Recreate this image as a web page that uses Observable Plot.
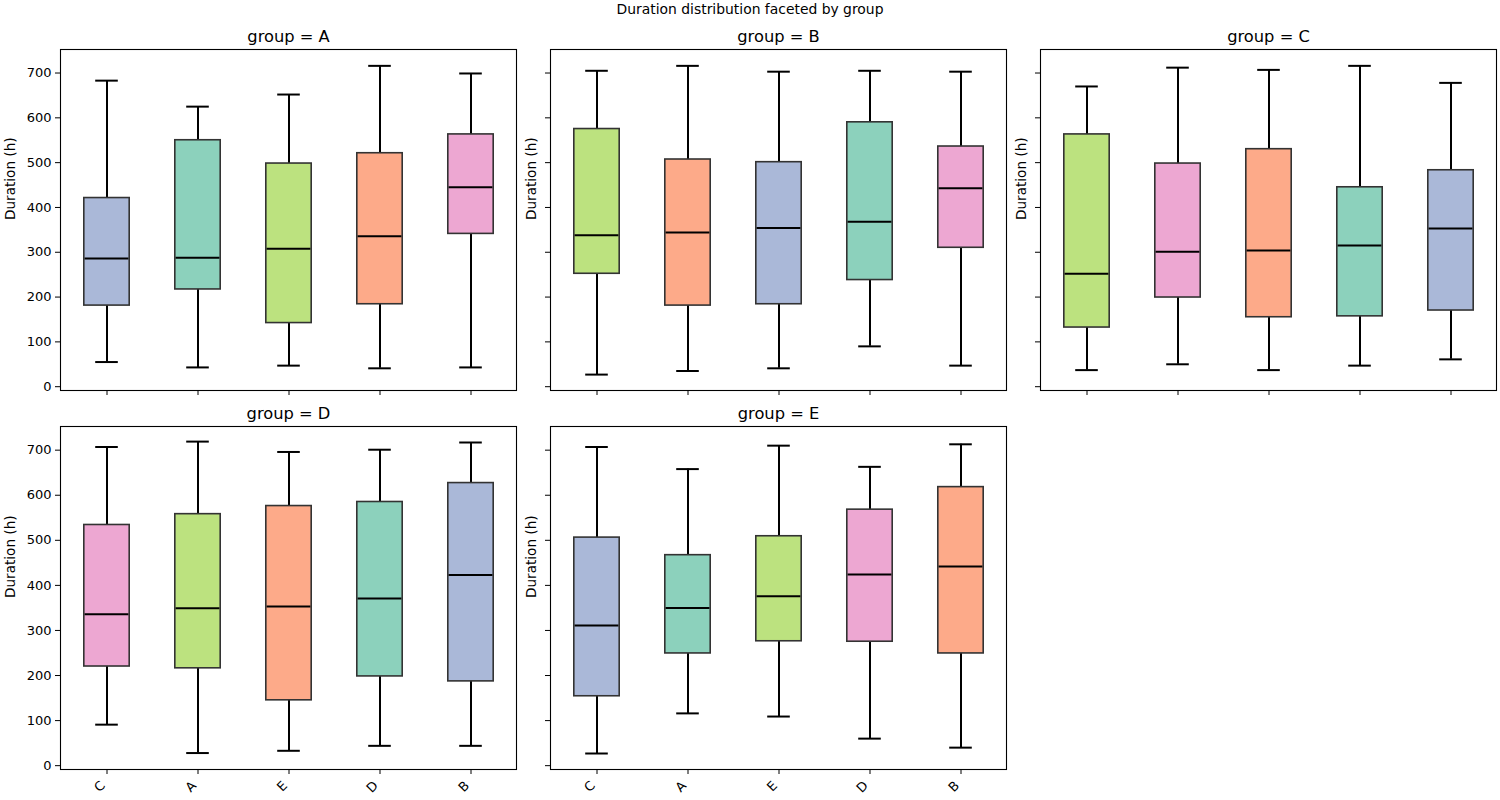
<!DOCTYPE html>
<html>
<head>
<meta charset="utf-8">
<script src="https://cdn.jsdelivr.net/npm/d3@7"></script>
<script src="https://cdn.jsdelivr.net/npm/@observablehq/plot@0.6"></script>
<style>
  html, body { margin: 0; padding: 0; background: #fff; }
  #fig { position: relative; width: 1500px; height: 800px; overflow: hidden; font-family: "DejaVu Sans", sans-serif; }
  #suptitle { position: absolute; left: 0; top: 1px; width: 1500px; text-align: center; font-size: 13.9px; color: #000; z-index: 5; }
</style>
</head>
<body>
<div id="fig"><div id="suptitle"></div></div>
<script>
// ---- data ----
const groups = ["A", "B", "C", "D", "E"];
const categories = ["C", "A", "E", "D", "B"];
const yTicks = [0, 100, 200, 300, 400, 500, 600, 700];
const yLabel = "Duration (h)";
const suptitle = "Duration distribution faceted by group";

// one row per facet group, one value per category (C, A, E, D, B)
const whiskerLow = [
  [55, 43, 47, 41, 43],
  [27, 35, 41, 90, 47],
  [37, 50, 37, 47, 61],
  [91, 28, 33, 44, 44],
  [27, 116, 109, 60, 40]
];
const q1 = [
  [181, 217, 142, 184, 341],
  [252, 181, 184, 238, 310],
  [132, 199, 155, 157, 170],
  [220, 216, 145, 198, 187],
  [154, 249, 276, 275, 249]
];
const median = [
  [286, 288, 308, 336, 445],
  [338, 344, 354, 368, 443],
  [252, 301, 304, 315, 353],
  [336, 349, 353, 371, 423],
  [311, 350, 376, 424, 442]
];
const q3 = [
  [421, 550, 498, 521, 563],
  [575, 507, 501, 590, 536],
  [563, 498, 530, 445, 483],
  [534, 558, 576, 585, 627],
  [506, 467, 509, 568, 618]
];
const whiskerHigh = [
  [683, 625, 652, 716, 699],
  [705, 716, 703, 705, 703],
  [670, 712, 707, 716, 678],
  [707, 719, 696, 701, 717],
  [707, 658, 710, 663, 713]
];
// Set2 palette slot of each box (s1 teal, s2 orange, s3 blue, s4 pink, s5 lime)
const boxColorSlots = [
  ["s3", "s1", "s5", "s2", "s4"],
  ["s5", "s2", "s3", "s1", "s4"],
  ["s5", "s4", "s2", "s1", "s3"],
  ["s4", "s5", "s2", "s1", "s3"],
  ["s3", "s1", "s5", "s4", "s2"]
];
const paletteSlots = ["s1", "s2", "s3", "s4", "s5"];

// ---- layout ----
const fig = document.getElementById("fig");
document.getElementById("suptitle").textContent = suptitle;

const colLeft = [0, 530, 1020];
const colWidth = [530, 490, 480];
const colML = [60, 20, 20];
const colMR = [14, 14, 4];
const rowTop = [0, 400];
const rowMT = [49, 26];
const rowMB = [10, 31];

function panel(gi) {
  const col = gi % 3, row = Math.floor(gi / 3);
  const width = colWidth[col];
  const mL = colML[col], mR = colMR[col];
  const step = (width - mL - mR) / categories.length;
  const showX = row === 1;
  const showY = col === 0;
  const rows = categories.map((c, i) => ({
    cat: c,
    low: whiskerLow[gi][i],
    q1: q1[gi][i],
    med: median[gi][i],
    q3: q3[gi][i],
    high: whiskerHigh[gi][i],
    slot: boxColorSlots[gi][i]
  }));
  const marks = [
    Plot.ruleX(rows, { x: "cat", y1: "low", y2: "q1", stroke: "#000", strokeWidth: 2 }),
    Plot.ruleX(rows, { x: "cat", y1: "q3", y2: "high", stroke: "#000", strokeWidth: 2 }),
    Plot.tickY(rows, { x: "cat", y: "low", inset: step * 0.375, stroke: "#000", strokeWidth: 2 }),
    Plot.tickY(rows, { x: "cat", y: "high", inset: step * 0.375, stroke: "#000", strokeWidth: 2 }),
    Plot.barY(rows, { x: "cat", y1: "q1", y2: "q3", insetLeft: step * 0.25, insetRight: step * 0.25,
      fill: "slot", fillOpacity: 0.75, stroke: "#333", strokeWidth: 1.6 }),
    Plot.tickY(rows, { x: "cat", y: "med", inset: step * 0.25 + 0.8, stroke: "#000", strokeWidth: 2 }),
    Plot.frame({ stroke: "#000", strokeWidth: 1.1 }),
    Plot.axisY({ ticks: yTicks, tickSize: 5, tickPadding: 4, label: null,
      tickFormat: showY ? (d => String(d)) : (() => "") }),
    Plot.axisX({ tickSize: 5, label: null, tickFormat: () => "" }),
    Plot.text([`group = ${groups[gi]}`], { text: d => d, frameAnchor: "top", dy: -8, lineAnchor: "bottom", fontSize: 16.3 }),
    Plot.text([yLabel], { text: d => d, frameAnchor: "left", rotate: -90, dx: showY ? -49.5 : -18.5, fontSize: 13.6 })
  ];
  if (showX) {
    marks.push(Plot.axisX({ tickSize: 0, tickPadding: 14, dx: -4, label: null, tickRotate: -45, tickFormat: d => d }));
  }
  const chart = Plot.plot({
    width,
    height: 400,
    marginLeft: mL,
    marginRight: mR,
    marginTop: rowMT[row],
    marginBottom: rowMB[row],
    style: { fontFamily: "DejaVu Sans", fontSize: "13px", color: "#000", background: "transparent", overflow: "visible" },
    x: { type: "band", domain: categories, padding: 0, axis: null },
    y: { domain: [-8.5, 752.5], axis: null },
    color: { type: "ordinal", domain: paletteSlots, range: d3.schemeSet2.slice(0, 5) },
    marks
  });
  chart.style.position = "absolute";
  chart.style.left = colLeft[col] + "px";
  chart.style.top = rowTop[row] + "px";
  fig.appendChild(chart);
}

groups.forEach((g, gi) => panel(gi));
</script>
</body>
</html>
